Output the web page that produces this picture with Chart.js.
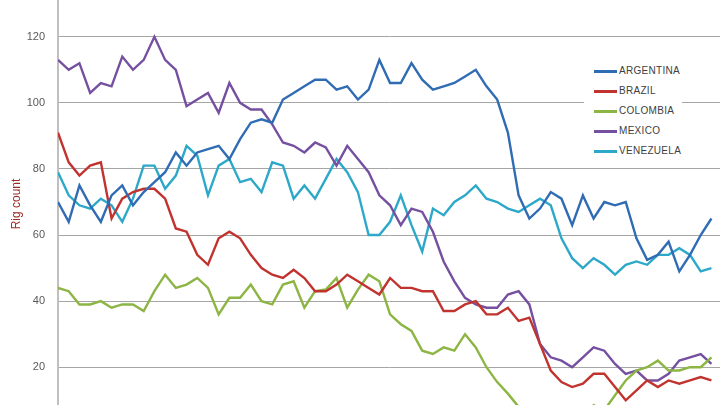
<!DOCTYPE html>
<html>
<head>
<meta charset="utf-8">
<script src="https://cdn.jsdelivr.net/npm/chart.js@4"></script>
<style>
  body { margin: 0; background: #fff; }
  #wrap { position: relative; width: 720px; height: 405px; overflow: hidden; }
  #c { position: absolute; left: 0; top: -19px; }
  #legend { position: absolute; left: 584px; top: 56px; width: 98px; height: 106px; background: #fff;
            font-family: "Liberation Sans", Arial, sans-serif; font-size: 10px; color: #404040; }
  #legend div { position: absolute; left: 10px; height: 12px; line-height: 12px; letter-spacing: 0.3px; }
  #legend span { display: inline-block; width: 23px; height: 2.5px; vertical-align: middle; margin-right: 2px; }
</style>
</head>
<body>
<div id="wrap">
  <canvas id="c" width="720" height="446"></canvas>
  <div id="legend"></div>
</div>
<script>
// === data ===
const countries = ["ARGENTINA", "BRAZIL", "COLOMBIA", "MEXICO", "VENEZUELA"];
const colors = ["#2f6cb3", "#c0332f", "#8cb544", "#7650a0", "#2da8c9"];

const argentina = [70,64,75,69,64,72,75,69,73,76, 79,85,81,85,86,87,83,89,94,95,
  94,101,103,105,107,107,104,105,101,104, 113,106,106,112,107,104,105,106,108,110,
  105,101,91,72,65,68,73,71,63,72, 65,70,69,70,59,52.5,54,58,49,54, 60,65];
const brazil = [91,82,78,81,82,65,71,73,74,74, 71,62,61,54,51,59,61,59,54,50,
  48,47,49.5,47,43,43,45,48,46,44, 42,47,44,44,43,43,37,37,39,40,
  36,36,38,34,35,27,19,15.5,14,15, 18,18,14,10,13,16,14,16,15,16, 17,16];
const colombia = [44,43,39,39,40,38,39,39,37,43, 48,44,45,47,44,36,41,41,45,40,
  39,45,46,38,43,43.5,47,38,43.5,48, 46,36,33,31,25,24,26,25,30,26,
  20,15.5,12,8,5,3,2,2,3,5, 8.5,7,11.5,16,19,20,22,19,19,20, 20,23];
const mexico = [113,110,112,103,106,105,114,110,113,120, 113,110,99,101,103,97,106,100,98,98,
  93.5,88,87,85,88,86.5,81,87,83,79, 72,69,63,68,67,61,52,46,41,39,
  38,38,42,43,39,27,23,22,20,23, 26,25,21,18,19,16,16,18,22,23, 24,21];
const venezuela = [79,72,69,68,71,69,64,71,81,81, 74,78,87,84,72,81,83,76,77,73,
  82,81,71,75,71,77,83,79,73,60, 60,64,72,63,55,68,66,70,72,75,
  71,70,68,67,69,71,69,59,53,50, 53,51,48,51,52,51,54,54,56,54, 49,50];
const series = [argentina, brazil, colombia, mexico, venezuela];

// === legend ===
const legend = document.getElementById("legend");
countries.forEach((name, i) => {
    const row = document.createElement("div");
    row.style.top = (9 + i * 20) + "px";
    row.innerHTML = '<span style="background:' + colors[i] + '"></span>' + name;
    legend.appendChild(row);
});

// === chart ===
const isMajor = v => Math.abs(v % 20) < 0.001;

new Chart(document.getElementById("c"), {
    type: "line",
    data: {
        datasets: series.map((vals, i) => ({
            label: countries[i],
            data: vals.map((v, k) => ({ x: k, y: v })),
            borderColor: colors[i],
            borderWidth: 2.4,
            pointRadius: 0,
            tension: 0,
            fill: false,
        })),
    },
    options: {
        responsive: false,
        animation: false,
        layout: { padding: 0 },
        plugins: { legend: { display: false }, tooltip: { enabled: false } },
        scales: {
            x: { type: "linear", min: 0, max: 61.8, display: false },
            y: {
                min: 7.84,
                max: 130.94,
                afterFit: s => { s.width = 58; },
                ticks: {
                    stepSize: 20,
                    padding: 13,
                    color: "#595959",
                    font: { family: "Liberation Sans", size: 11 },
                    callback: v => (isMajor(v) ? v : ""),
                },
                grid: {
                    drawTicks: false,
                    color: ctx => (isMajor(ctx.tick.value) ? "#a6a6a6" : "rgba(0,0,0,0)"),
                    lineWidth: 1,
                },
                border: { color: "#bfbfbf", width: 2 },
                title: {
                    display: true,
                    text: "Rig count",
                    color: "#9b2c26",
                    padding: { top: 9, bottom: 0 },
                    font: { family: "Liberation Sans", size: 12 },
                },
            },
        },
    },
});
</script>
</body>
</html>
